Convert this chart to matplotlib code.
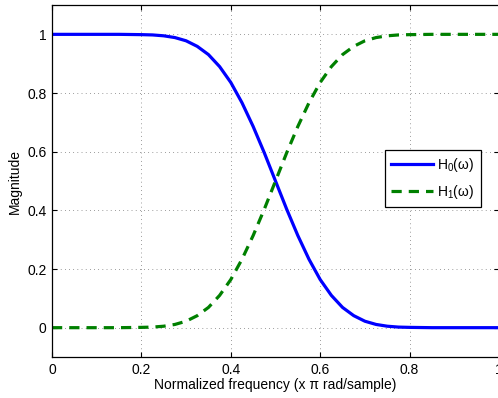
import matplotlib
matplotlib.use("Agg")
import matplotlib.pyplot as plt

plt.rcParams['font.family'] = ['Liberation Sans', 'DejaVu Sans']
plt.rcParams['mathtext.fontset'] = 'custom'
plt.rcParams['mathtext.rm'] = 'Liberation Sans'
plt.rcParams['mathtext.default'] = 'regular'

# normalized frequency (x pi rad/sample)
freq = [0.0, 0.05, 0.1, 0.15, 0.2, 0.225, 0.25, 0.275, 0.3, 0.325, 0.35, 0.375,
        0.4, 0.425, 0.45, 0.475, 0.5, 0.525, 0.55, 0.575, 0.6, 0.625, 0.65,
        0.675, 0.7, 0.725, 0.75, 0.775, 0.8, 0.85, 0.9, 0.95, 1.0]

# lowpass magnitude response
h0 = [1.0, 1.0, 1.0, 1.0, 0.999, 0.998, 0.995, 0.989, 0.978, 0.959, 0.931, 0.890,
      0.836, 0.767, 0.686, 0.596, 0.5, 0.404, 0.314, 0.233, 0.164, 0.110, 0.069,
      0.041, 0.022, 0.011, 0.005, 0.002, 0.001, 0.0, 0.0, 0.0, 0.0]

# highpass magnitude response
h1 = [0.0, 0.0, 0.0, 0.0, 0.001, 0.002, 0.005, 0.011, 0.022, 0.041, 0.069, 0.110,
      0.164, 0.233, 0.314, 0.404, 0.5, 0.596, 0.686, 0.767, 0.836, 0.890, 0.931,
      0.959, 0.978, 0.989, 0.995, 0.998, 0.999, 1.0, 1.0, 1.0, 1.0]

xticks = [0, 0.2, 0.4, 0.6, 0.8, 1.0]
xtick_labels = ['0', '0.2', '0.4', '0.6', '0.8', '1']
yticks = [0, 0.2, 0.4, 0.6, 0.8, 1.0]
ytick_labels = ['0', '0.2', '0.4', '0.6', '0.8', '1']

fig = plt.figure(figsize=(4.98, 3.98), dpi=100)
ax = fig.add_axes([0.1044, 0.103, 0.8976, 0.8844])

ax.plot(freq, h0, color='#0000ff', lw=2.3, label='H$_0$(ω)')
ax.plot(freq, h1, color='#008000', lw=2.3, dashes=(3.2, 2.2), label='H$_1$(ω)')

ax.set_xlim(0, 1)
ax.set_ylim(-0.1, 1.1)
ax.set_xticks(xticks)
ax.set_xticklabels(xtick_labels)
ax.set_yticks(yticks)
ax.set_yticklabels(ytick_labels)
ax.tick_params(direction='in', length=3.5, width=0.8, top=True, right=True,
               labelsize=10, pad=4)

ax.grid(True, color='0.25', lw=0.5, dashes=(1, 5))
for sp in ax.spines.values():
    sp.set_linewidth(0.9)

ax.set_xlabel('Normalized frequency (x π rad/sample)', fontsize=10, labelpad=1)
ax.set_ylabel('Magnitude', fontsize=10, labelpad=4)

leg = ax.legend(loc='upper left', bbox_to_anchor=(0.745, 0.588), fontsize=10,
                handlelength=3.0, handletextpad=0.3, borderpad=0.45,
                labelspacing=0.6, fancybox=False, framealpha=1,
                borderaxespad=0)
leg.get_frame().set_edgecolor('k')
leg.get_frame().set_linewidth(0.9)

fig.savefig('out.png', dpi=100)
